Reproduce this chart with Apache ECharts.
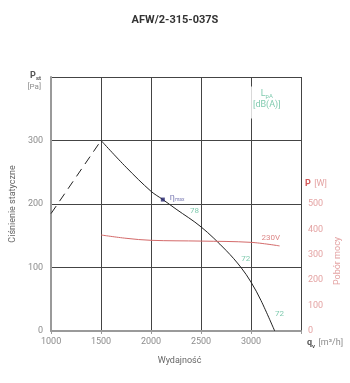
<!DOCTYPE html>
<html>
<head>
<meta charset="utf-8">
<script src="https://cdn.jsdelivr.net/npm/echarts/dist/echarts.min.js"></script>
<style>
  html, body { margin: 0; padding: 0; background: #fff; }
  #chart { width: 350px; height: 383px; }
</style>
</head>
<body>
<div id="chart"></div>
<script>
// Fan characteristic AFW/2-315-037S
const flowTicks = [1000, 1500, 2000, 2500, 3000, 3500];
const pressureTicks = [0, 100, 200, 300];
const powerTicks = [0, 100, 200, 300, 400, 500];

// Static pressure curve (m³/h, Pa)
const fanFlow = [1500, 1750, 2000, 2118, 2250, 2500, 2750, 2900, 3000, 3100, 3237];
const fanPressure = [300, 258, 220, 207, 192, 164, 127, 100, 77, 48, 0];

// Unstable region (dashed)
const stallFlow = [1000, 1500];
const stallPressure = [185, 300];

// Power consumption (m³/h, W)
const powerFlow = [1500, 1750, 2000, 2500, 3000, 3286];
const powerW = [378, 365, 357, 354, 349, 335];

// Maximum efficiency point
const effFlow = [2118];
const effPressure = [207];

// Sound pressure level notes along the curve
const noiseFlow = [2434, 2947, 3286];
const noisePressure = [189, 113, 26];
const noiseText = ['78', '72', '72'];

// Supply voltage note on the power line
const voltageFlow = [3197];
const voltagePower = [365];
const voltageText = ['230V'];

const FONT = 'Roboto, "Noto Sans", sans-serif';
const GRAY = '#8c8c8c';
const GREEN = '#5dbb98';
const RED = '#d46a6a';
const PINK = '#e4a3a3';

const zip = (a, b) => a.map((v, i) => [v, b[i]]);

const chart = echarts.init(document.getElementById('chart'));
chart.setOption({
  animation: false,
  backgroundColor: '#fff',
  textStyle: { fontFamily: FONT },
  title: {
    text: 'AFW/2-315-037S',
    left: 'center',
    top: 10,
    textStyle: { fontSize: 11, fontWeight: 'bold', color: '#333', fontFamily: FONT }
  },
  grid: { left: 48, right: 49, top: 77, bottom: 52 },
  xAxis: {
    type: 'value',
    min: flowTicks[0],
    max: flowTicks[flowTicks.length - 1],
    interval: 500,
    name: 'Wydajność',
    nameLocation: 'middle',
    nameGap: 25,
    nameTextStyle: { color: '#666', fontSize: 9, padding: [0, 0, 0, 7] },
    axisLine: { lineStyle: { color: '#9a9a9a', width: 2 } },
    axisTick: { show: true, length: 3, lineStyle: { color: '#9a9a9a' } },
    axisLabel: {
      color: GRAY, fontSize: 9, margin: 6,
      formatter: v => (flowTicks.indexOf(v) >= 0 && v < 3500 ? String(v) : '')
    },
    splitLine: { show: true, lineStyle: { color: '#444', width: 1 } }
  },
  yAxis: [
    {
      type: 'value',
      min: 0,
      max: 400,
      interval: 100,
      name: 'Ciśnienie statyczne',
      nameLocation: 'middle',
      nameGap: 34,
      nameTextStyle: { color: '#666', fontSize: 9 },
      axisLine: { show: true, lineStyle: { color: '#9a9a9a', width: 2 } },
      axisTick: { show: false },
      axisLabel: {
        color: GRAY, fontSize: 9, margin: 8,
        formatter: v => (pressureTicks.indexOf(v) >= 0 ? String(v) : '')
      },
      splitLine: { show: true, lineStyle: { color: '#444', width: 1 } }
    },
    {
      type: 'value',
      position: 'right',
      min: 0,
      max: 1000,
      interval: 100,
      axisLine: { show: false },
      axisTick: { show: false },
      splitLine: { show: false },
      axisLabel: {
        color: PINK, fontSize: 9, margin: 7,
        formatter: v => (powerTicks.indexOf(v) >= 0 ? String(v) : '')
      }
    }
  ],
  graphic: [
    {
      type: 'text', x: 41, y: 71,
      style: {
        text: '{b|P}{s|st}\n{u|[Pa]}',
        align: 'right',
        rich: {
          b: { fontSize: 9, fontWeight: 'bold', fill: '#555', fontFamily: FONT, lineHeight: 10 },
          s: { fontSize: 6, fontWeight: 'bold', fill: '#555', verticalAlign: 'bottom', padding: [4, 0, 0, 0], fontFamily: FONT },
          u: { fontSize: 8, fill: GRAY, fontFamily: FONT, lineHeight: 11 }
        }
      }
    },
    {
      type: 'text', left: 305, top: 178,
      style: {
        text: '{p|P} {u|[W]}',
        rich: {
          p: { fontSize: 9, fontWeight: 'bold', fill: '#d45a5a', fontFamily: FONT },
          u: { fontSize: 9, fill: PINK, fontFamily: FONT }
        }
      }
    },
    {
      type: 'text', x: 338, y: 261, rotation: Math.PI / 2,
      style: {
        text: 'Pobór mocy', fill: PINK, fontSize: 9, fontFamily: FONT,
        align: 'center', verticalAlign: 'middle'
      }
    },
    {
      type: 'text', left: 307, top: 337,
      style: {
        text: '{q|q}{v|v} {u|[m³/h]}',
        rich: {
          q: { fontSize: 9, fontWeight: 'bold', fill: '#555', fontFamily: FONT },
          v: { fontSize: 6, fontWeight: 'bold', fill: '#555', verticalAlign: 'bottom', fontFamily: FONT },
          u: { fontSize: 9, fill: GRAY, fontFamily: FONT }
        }
      }
    }
  ],
  series: [
    {
      name: 'pressure',
      type: 'line',
      data: zip(fanFlow, fanPressure),
      smooth: 0.35,
      symbol: 'none',
      lineStyle: { color: '#222', width: 1 },
      z: 3
    },
    {
      name: 'stall',
      type: 'line',
      data: zip(stallFlow, stallPressure),
      symbol: 'none',
      lineStyle: { color: '#222', width: 1, type: [9, 6] },
      z: 3
    },
    {
      name: 'power',
      type: 'line',
      yAxisIndex: 1,
      data: zip(powerFlow, powerW),
      smooth: 0.35,
      symbol: 'none',
      lineStyle: { color: RED, width: 1 },
      z: 3
    },
    {
      name: 'efficiency',
      type: 'scatter',
      data: zip(effFlow, effPressure),
      symbol: 'rect',
      symbolSize: 4,
      itemStyle: { color: '#24246e' },
      label: {
        show: true,
        position: 'right',
        distance: 5,
        offset: [0, -2],
        formatter: '{e|η}{m|max}',
        rich: {
          e: { fontSize: 9, color: '#5a5aa0', fontFamily: FONT },
          m: { fontSize: 5, color: '#5a5aa0', verticalAlign: 'bottom', padding: [5, 0, 0, 0], fontFamily: FONT }
        }
      },
      z: 5
    },
    {
      name: 'noise',
      type: 'scatter',
      data: zip(noiseFlow, noisePressure).map((p, i) => ({ value: p, text: noiseText[i] })),
      symbolSize: 0,
      label: {
        show: true,
        position: 'inside',
        formatter: p => p.data.text,
        color: GREEN, fontSize: 8, fontFamily: FONT
      },
      z: 5
    },
    {
      name: 'voltage',
      type: 'scatter',
      yAxisIndex: 1,
      data: zip(voltageFlow, voltagePower).map((p, i) => ({ value: p, text: voltageText[i] })),
      symbolSize: 0,
      label: {
        show: true,
        position: 'inside',
        formatter: p => p.data.text,
        color: RED, fontSize: 8, fontFamily: FONT
      },
      z: 5
    },
    {
      name: 'levelUnit',
      type: 'scatter',
      data: [[3158, 360]],
      symbolSize: 0,
      label: {
        show: true,
        position: 'inside',
        backgroundColor: '#fff',
        padding: [2, 5, 8, 5],
        formatter: '{l|L}{s|pA}\n{u|[dB(A)]}',
        rich: {
          l: { fontSize: 9, color: GREEN, fontFamily: FONT, lineHeight: 11 },
          s: { fontSize: 6, color: GREEN, verticalAlign: 'bottom', padding: [5, 0, 0, 0], fontFamily: FONT },
          u: { fontSize: 9, color: GREEN, fontFamily: FONT, lineHeight: 11 }
        }
      },
      z: 6
    }
  ]
});
</script>
</body>
</html>
